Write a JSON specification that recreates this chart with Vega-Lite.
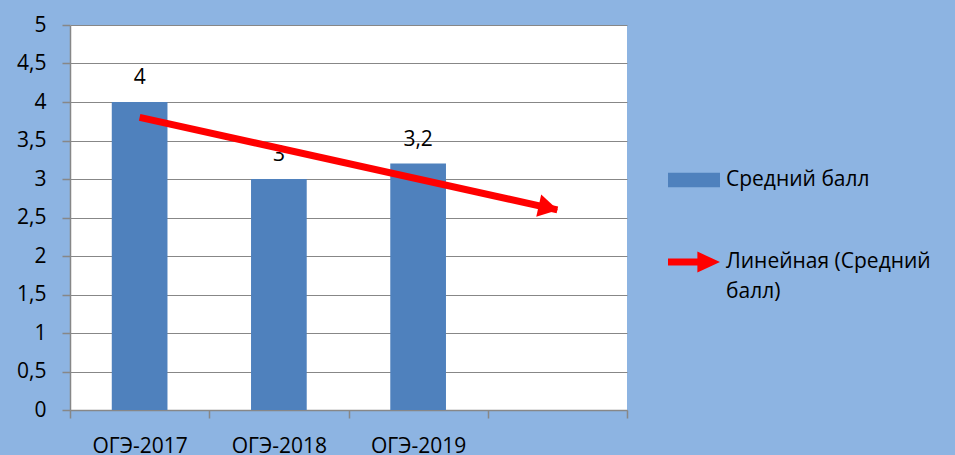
{
  "$schema": "https://vega.github.io/schema/vega-lite/v6.json",
  "width": 557,
  "height": 385,
  "autosize": {"type": "none"},
  "padding": {"left": 70, "top": 25, "right": 328, "bottom": 45},
  "background": "#8DB4E2",
  "config": {
    "view": {"fill": "white", "stroke": null},
    "font": "Open Sans",
    "axis": {"labelFont": "Open Sans", "labelFontSize": 21, "labelColor": "#000000", "domainColor": "#878787", "tickColor": "#878787", "gridColor": "#878787", "tickSize": 8, "domainWidth": 1.5, "tickWidth": 1.5, "gridWidth": 1.2},
    "legend": {"labelFont": "Open Sans", "labelFontSize": 21, "labelColor": "#000000", "padding": 0}
  },
  "datasets": {
    "scores": [
      {"cat": "ОГЭ-2017", "value": 4, "label": "4"},
      {"cat": "ОГЭ-2018", "value": 3, "label": "3"},
      {"cat": "ОГЭ-2019", "value": 3.2, "label": "3,2"}
    ],
    "trend": [
      {"cat": "ОГЭ-2017", "value": 3.8},
      {"cat": " ", "value": 2.6}
    ],
    "tip": [
      {"cat": " ", "value": 2.6}
    ]
  },
  "encoding": {
    "x": {"field": "cat", "type": "nominal", "sort": null,
      "scale": {"domain": ["ОГЭ-2017", "ОГЭ-2018", "ОГЭ-2019", " "], "paddingInner": 0, "paddingOuter": 0},
      "axis": {"title": null, "labelAngle": 0, "tickBand": "extent", "labelPadding": 17, "grid": false}},
    "y": {"field": "value", "type": "quantitative",
      "scale": {"domain": [0, 5], "nice": false},
      "axis": {"title": null, "values": [0, 0.5, 1, 1.5, 2, 2.5, 3, 3.5, 4, 4.5, 5], "labelExpr": "replace(format(datum.value, '~g'), '.', ',')", "labelOverlap": false, "labelFlush": false, "grid": true, "labelPadding": 16}}
  },
  "layer": [
    {
      "data": {"name": "scores"},
      "mark": {"type": "bar", "width": {"band": 0.4}},
      "encoding": {
        "fill": {"datum": "Средний балл", "type": "nominal",
          "scale": {"range": ["#4F81BD"]},
          "legend": {"title": null, "orient": "none", "legendX": 598, "legendY": 129,
            "symbolType": "M-1,-0.28L1,-0.28L1,0.28L-1,0.28Z", "symbolSize": 2704, "symbolStrokeWidth": 0, "labelOffset": 6}}
      }
    },
    {
      "data": {"name": "scores"},
      "mark": {"type": "text", "baseline": "alphabetic", "dy": -18, "fontSize": 21, "color": "#000000", "font": "Open Sans"},
      "encoding": {
        "text": {"field": "label"}
      }
    },
    {
      "data": {"name": "trend"},
      "mark": {"type": "line", "strokeWidth": 7, "strokeCap": "butt"},
      "encoding": {
        "stroke": {"datum": "Линейная (Средний балл)", "type": "nominal",
          "scale": {"range": ["#FF0000"]},
          "legend": {"title": null, "orient": "none", "legendX": 598, "legendY": 211,
            "symbolType": "M-1,-0.135L0.13,-0.135L0.13,-0.4L1,0L0.13,0.4L0.13,0.135L-1,0.135Z", "symbolSize": 2704,
            "symbolFillColor": "#FF0000", "symbolStrokeWidth": 0, "labelOffset": 6,
            "labelExpr": "['Линейная (Средний', 'балл)']", "labelLimit": 300,
            "encode": {
              "symbols": {"update": {"fill": {"value": "#FF0000"}, "strokeWidth": {"value": 0}}},
              "labels": {"update": {"lineHeight": {"value": 30}}}
            }}}
      }
    },
    {
      "data": {"name": "tip"},
      "mark": {"type": "point", "shape": "triangle-right", "size": 520, "angle": 12.5, "filled": true, "color": "#FF0000", "opacity": 1, "xOffset": -9, "yOffset": -2}
    }
  ]
}
